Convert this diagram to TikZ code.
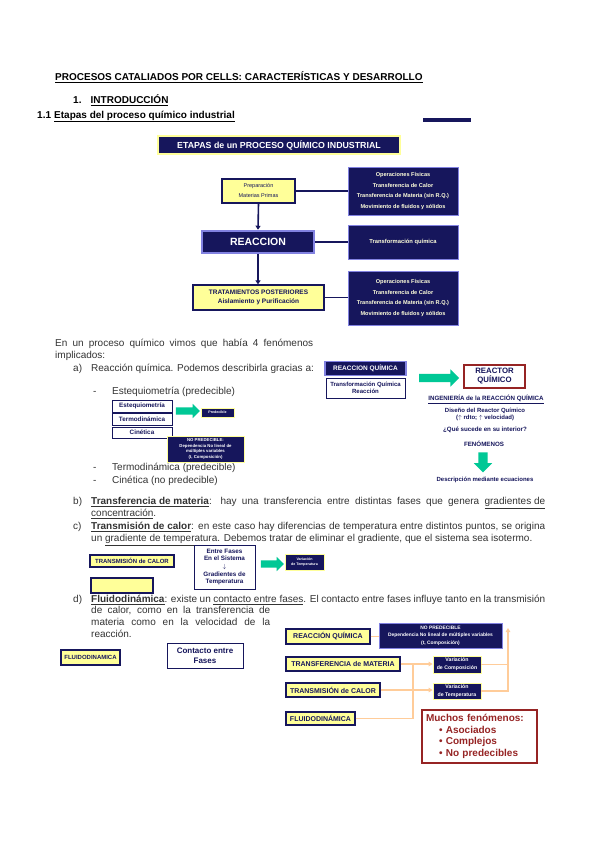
\documentclass[tikz,border=0pt]{standalone}
\usepackage{fontspec}
\setmainfont{Liberation Sans}
\usetikzlibrary{arrows.meta,positioning,shapes.arrows}
\definecolor{navy}{RGB}{22,22,92}
\definecolor{lemon}{RGB}{255,255,153}
\definecolor{lavender}{RGB}{130,130,225}
\definecolor{mint}{RGB}{0,200,150}
\definecolor{brick}{RGB}{150,36,36}
\definecolor{peach}{RGB}{255,204,153}
\newcommand{\jline}[2]{\makebox[#1][s]{#2}}
\newcommand{\fsz}[2]{\fontsize{#1}{#2}\selectfont}
\tikzset{
	body/.style={anchor=base west, inner sep=0pt, font=\fsz{10}{12}, text=black!80},
	head/.style={anchor=base west, inner sep=0pt, font=\fsz{10}{12}\bfseries},
	ybox/.style={draw=navy, fill=lemon, line width=1.2pt, text=navy, align=center,
		inner sep=1pt, font=\fsz{6}{7}\bfseries},
	dbox/.style={draw=lavender, fill=navy, line width=1pt, text=lemon!35!white,
		align=center, inner sep=1pt, font=\fsz{5.6}{10.8}\bfseries},
	nbox/.style={draw=lemon, fill=navy, line width=0.8pt, text=white, align=center,
		inner sep=0.5pt, font=\fsz{3.6}{4.6}\bfseries},
	wbox/.style={draw=navy, fill=white, line width=0.8pt, text=navy, align=center,
		inner sep=1pt, font=\fsz{6.3}{7.5}\bfseries},
	link/.style={draw=navy, line width=1.6pt},
	linkarrow/.style={link, -{Triangle[length=4pt,width=5pt]}},
	plink/.style={draw=peach, line width=1.3pt},
	parrow/.style={plink, -{Triangle[length=4pt,width=4.5pt]}},
	garrow/.style={single arrow, fill=mint, draw=none, inner xsep=0pt, inner ysep=3.5pt,
		single arrow head extend=3.5pt, single arrow head indent=0pt},
	note/.style={inner sep=0pt, text=navy, font=\fsz{6.2}{7}\bfseries},
}

\begin{document}
\begin{tikzpicture}[x=1pt, y=-1pt]
	\useasboundingbox (0,0) rectangle (599,848);
	\fill[white] (0,0) rectangle (599,848);
	
	%% -- Headings
	\node[head] (ttl) at (55,81) {\underline{PROCESOS CATALIADOS POR CELLS: CARACTERÍSTICAS Y DESARROLLO}};
	\node[head] (h1n) at (73,104) {1.};
	\node[head] (h1) at (90.5,104) {\underline{INTRODUCCIÓN}};
	\node[head] (h11n) at (37,118) {1.1};
	\node[head] (h11) at (54,118) {\underline{Etapas del proceso químico industrial}};
	\fill[navy] (423,118) rectangle (471,122);
	
	%% -- Etapas diagram
	\node[draw=lemon, fill=navy, line width=1.5pt, text=white, font=\fsz{8.8}{10}\bfseries,
	minimum width=242pt, minimum height=18pt] (etapas) at (279,145)
	{ETAPAS de un PROCESO QUÍMICO INDUSTRIAL};
	
	\node[ybox, font=\fsz{5.5}{10}, minimum width=73pt, minimum height=24pt] (prep) at (258.5,191)
	{Preparación\\Materias Primas};
	\node[draw=lavender, fill=navy, line width=2.5pt, text=white, font=\fsz{10.5}{12}\bfseries,
	minimum width=112pt, minimum height=22pt] (reac) at (258,242) {REACCION};
	\node[ybox, font=\fsz{6.5}{9.5}\bfseries, minimum width=131pt, minimum height=25pt] (trat) at (258.5,297.5)
	{TRATAMIENTOS POSTERIORES\\Aislamiento y Purificación};
	
	\node[dbox, minimum width=110pt, minimum height=48pt] (dk1) at (403,191)
	{Operaciones Físicas\\Transferencia de Calor\\Transferencia de Materia (sin R.Q.)\\Movimiento de fluidos y sólidos};
	\node[dbox, font=\fsz{5.8}{7}\bfseries, minimum width=110pt, minimum height=34pt] (dk2) at (403,242)
	{Transformación química};
	\node[dbox, minimum width=110pt, minimum height=54pt] (dk3) at (403,298)
	{Operaciones Físicas\\Transferencia de Calor\\Transferencia de Materia (sin R.Q.)\\Movimiento de fluidos y sólidos};
	
	\draw[link] (prep.east) -- (dk1.west);
	\draw[link] (reac.east) -- (dk2.west);
	\draw[link] (trat.east) -- (trat.east -| dk3.west);
	\draw[linkarrow] (prep.south) -- (reac.north);
	\draw[linkarrow] (reac.south) -- (reac.south |- trat.north);
	
	%% -- Paragraph and item a)
	\node[body] (p1) at (55,346.5) {\jline{258pt}{En un proceso químico vimos que había 4 fenómenos}};
	\node[body] (p2) at (55,358.5) {implicados:};
	\node[body] (la) at (73,371.5) {a)};
	\node[body] (ta) at (91,371.5) {Reacción química. Podemos describirla gracias a:};
	\node[body] (d1) at (93,394.5) {-};
	\node[body] (i1) at (112,394.5) {Estequiometría (predecible)};
	\node[body] (d2) at (93,470.5) {-};
	\node[body] (i2) at (112,470.5) {Termodinámica (predecible)};
	\node[body] (d3) at (93,483.5) {-};
	\node[body] (i3) at (112,483.5) {Cinética (no predecible)};
	
	\node[wbox, minimum width=60pt, minimum height=12pt] (est) at (142,406) {Estequiometría};
	\node[wbox, minimum width=60pt, minimum height=12pt] (ter) at (142,419) {Termodinámica};
	\node[wbox, minimum width=60pt, minimum height=11pt] (cin) at (142,432.5) {Cinética};
	\node[garrow, minimum height=24pt] (ga1) at (186,411) {};
	\node[nbox, minimum width=33pt, minimum height=9pt] (pred) at (217.5,412.5) {Predecible};
	\node[nbox, font=\fsz{4.3}{5.8}\bfseries, minimum width=77pt, minimum height=26pt] (nopred) at (205.5,449)
	{NO PREDECIBLE:\\Dependencia No lineal de\\múltiples variables\\(t, Composición)};
	
	%% -- Reactor block
	\node[draw=lavender, fill=navy, line width=1.2pt, text=white, font=\fsz{6.5}{7}\bfseries,
	minimum width=81pt, minimum height=13pt] (rq) at (365.5,368.5) {REACCION QUÍMICA};
	\node[wbox, font=\fsz{6}{7}\bfseries, minimum width=79pt, minimum height=20pt] (tq) at (365.5,388)
	{Transformación Química\\Reacción};
	\node[garrow, minimum height=40pt, inner ysep=4pt, single arrow head extend=4.5pt] (ga2) at (437,378) {};
	\node[draw=brick, fill=white, line width=1.3pt, text=navy, align=center, font=\fsz{7.8}{9}\bfseries,
	minimum width=61pt, minimum height=23pt] (reactor) at (494.5,376.5) {REACTOR\\QUÍMICO};
	\node[note] (irq) at (486,399) {\underline{INGENIERÍA de la REACCIÓN QUÍMICA}};
	\node[note, align=center, font=\fsz{6}{7}\bfseries] (dis) at (485,414.5)
	{Diseño del Reactor Químico\\(\(\uparrow\) rdto; \(\uparrow\) velocidad)};
	\node[note] (que) at (485,430) {¿Qué sucede en su interior?};
	\node[note] (fen) at (484,444) {FENÓMENOS};
	\node[garrow, rotate=-90, minimum height=20pt, inner ysep=4.5pt,
	single arrow head extend=4.5pt] (ga4) at (483,460) {};
	\node[note, font=\fsz{6}{7}\bfseries] (desc) at (485,480) {Descripción mediante ecuaciones};
	
	%% -- Items b) and c)
	\node[body] (lb) at (73,504.5) {b)};
	\node[body] (tb1) at (91,504.5) {\jline{454pt}{\underline{\textbf{Transferencia de materia}}: hay una transferencia entre distintas fases que genera \underline{gradientes de}}};
	\node[body] (tb2) at (91,516.5) {\underline{concentración}.};
	\node[body] (lc) at (73,529.5) {c)};
	\node[body] (tc1) at (91,529.5) {\jline{454pt}{\underline{\textbf{Transmisión de calor}}: en este caso hay diferencias de temperatura entre distintos puntos, se origina}};
	\node[body] (tc2) at (91,541.5) {un \underline{gradiente de temperatura}. Debemos tratar de eliminar el gradiente, que el sistema sea isotermo.};
	
	\node[ybox, minimum width=84pt, minimum height=12pt] (calor) at (132,561) {TRANSMISIÓN de CALOR};
	\node[ybox, minimum width=62pt, minimum height=15pt] (blank) at (122,585.5) {};
	\node[wbox, font=\fsz{6.3}{7.6}\bfseries, minimum width=61pt, minimum height=44pt] (fases) at (224.5,567)
	{Entre Fases\\En el Sistema\\\(\downarrow\)\\Gradientes de\\Temperatura};
	\node[garrow, minimum height=23pt] (ga3) at (270.5,564) {};
	\node[nbox, minimum width=39pt, minimum height=16pt] (vtemp) at (304.5,562)
	{Variación\\de Temperatura};
	
	%% -- Item d)
	\node[body] (ld) at (73,602.5) {d)};
	\node[body] (td1) at (91,602.5) {\jline{454pt}{\underline{\textbf{Fluidodinámica}}: existe un \underline{contacto entre fases}. El contacto entre fases influye tanto en la transmisión}};
	\node[body] (td2) at (91,613.5) {\jline{179pt}{de calor, como en la transferencia de}};
	\node[body] (td3) at (91,625.5) {\jline{179pt}{materia como en la velocidad de la}};
	\node[body] (td4) at (91,637.5) {reacción.};
	
	\node[ybox, minimum width=59pt, minimum height=15pt] (fluido) at (90.5,657.5) {FLUIDODINAMICA};
	\node[wbox, font=\fsz{8}{10}\bfseries, minimum width=76pt, minimum height=25pt] (contacto) at (205,655.5)
	{Contacto entre\\Fases};
	
	%% -- Summary diagram
	\node[ybox, font=\fsz{7}{8}\bfseries, minimum width=84pt, minimum height=15pt] (brq) at (328,636.5) {REACCIÓN QUÍMICA};
	\node[nbox, font=\fsz{4.9}{7.5}\bfseries, draw=lavender, minimum width=123pt, minimum height=25pt] (bnp) at (440.5,635.5)
	{NO PREDECIBLE\\Dependencia No lineal de múltiples variables\\(t, Composición)};
	\node[ybox, font=\fsz{7}{8}\bfseries, minimum width=114pt, minimum height=14pt] (btm) at (343,664) {TRANSFERENCIA de MATERIA};
	\node[nbox, font=\fsz{5.2}{8}\bfseries, minimum width=48pt, minimum height=17pt] (bvc) at (457,664.5)
	{Variación\\de Composición};
	\node[ybox, font=\fsz{7}{8}\bfseries, minimum width=94pt, minimum height=14pt] (btc) at (333,690) {TRANSMISIÓN de CALOR};
	\node[nbox, font=\fsz{5.2}{8}\bfseries, minimum width=48pt, minimum height=16pt] (bvt) at (457,691)
	{Variación\\de Temperatura};
	\node[ybox, font=\fsz{7}{8}\bfseries, minimum width=69pt, minimum height=13pt] (bfl) at (320.5,718.5) {FLUIDODINÁMICA};
	\node[draw=brick, fill=white, line width=1.3pt, text=brick, align=left, font=\fsz{10}{11.7}\bfseries,
	text width=107pt, inner xsep=4pt, minimum height=53pt] (many) at (479.5,736.5)
	{Muchos fenómenos:\\\hspace*{13pt}• Asociados\\\hspace*{13pt}• Complejos\\\hspace*{13pt}• No predecibles};
	
	\coordinate (pjoin) at (413,664);
	\coordinate (prise) at (508,628);
	\draw[plink] (brq.east) -- (brq.east -| bnp.west);
	\draw[parrow] (btm.east) -- (btm.east -| bvc.west);
	\draw[parrow] (btc.east) -- (btc.east -| bvt.west);
	\draw[plink] (bfl.east) -| (pjoin);
	\draw[plink] (bvc.east) -- (bvc.east -| prise);
	\draw[parrow] (bvt.east) -| (prise);
	
\end{tikzpicture}
\end{document}
